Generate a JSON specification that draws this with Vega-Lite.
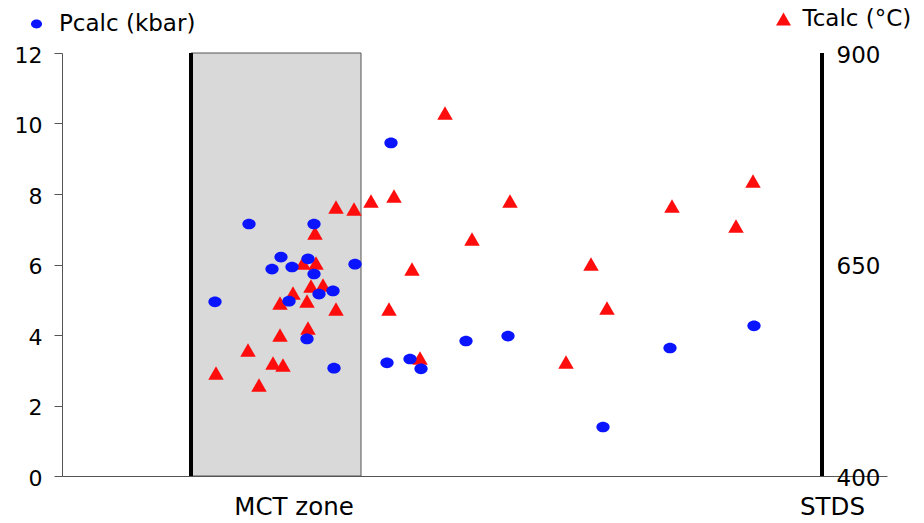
{
  "$schema": "https://vega.github.io/schema/vega-lite/v6.json",
  "width": 825,
  "height": 423,
  "autosize": {"type": "none"},
  "padding": {"left": 62, "top": 53, "right": 37, "bottom": 47},
  "background": "white",
  "config": {
    "view": {"stroke": null},
    "font": "DejaVu Sans",
    "axis": {"grid": false, "labelColor": "black", "labelFont": "DejaVu Sans"},
    "legend": {"labelFont": "DejaVu Sans", "labelColor": "black"}
  },
  "datasets": {
    "zones": [{"zone": "MCT zone", "start": 129, "end": 299}],
    "boundaries": [{"name": "MCT", "pos": 129}, {"name": "STDS", "pos": 760}],
    "pcalc": [
      {"series": "Pcalc (kbar)", "pos": 153, "P_kbar": 4.94},
      {"series": "Pcalc (kbar)", "pos": 187, "P_kbar": 7.15},
      {"series": "Pcalc (kbar)", "pos": 219, "P_kbar": 6.21},
      {"series": "Pcalc (kbar)", "pos": 210, "P_kbar": 5.87},
      {"series": "Pcalc (kbar)", "pos": 230, "P_kbar": 5.93},
      {"series": "Pcalc (kbar)", "pos": 246, "P_kbar": 6.16},
      {"series": "Pcalc (kbar)", "pos": 252, "P_kbar": 7.15},
      {"series": "Pcalc (kbar)", "pos": 252, "P_kbar": 5.73},
      {"series": "Pcalc (kbar)", "pos": 227, "P_kbar": 4.96},
      {"series": "Pcalc (kbar)", "pos": 257, "P_kbar": 5.16},
      {"series": "Pcalc (kbar)", "pos": 271, "P_kbar": 5.25},
      {"series": "Pcalc (kbar)", "pos": 293, "P_kbar": 6.01},
      {"series": "Pcalc (kbar)", "pos": 245, "P_kbar": 3.89},
      {"series": "Pcalc (kbar)", "pos": 272, "P_kbar": 3.06},
      {"series": "Pcalc (kbar)", "pos": 329, "P_kbar": 9.45},
      {"series": "Pcalc (kbar)", "pos": 325, "P_kbar": 3.21},
      {"series": "Pcalc (kbar)", "pos": 348, "P_kbar": 3.32},
      {"series": "Pcalc (kbar)", "pos": 359, "P_kbar": 3.04},
      {"series": "Pcalc (kbar)", "pos": 404, "P_kbar": 3.83},
      {"series": "Pcalc (kbar)", "pos": 446, "P_kbar": 3.97},
      {"series": "Pcalc (kbar)", "pos": 541, "P_kbar": 1.39},
      {"series": "Pcalc (kbar)", "pos": 608, "P_kbar": 3.63},
      {"series": "Pcalc (kbar)", "pos": 692, "P_kbar": 4.26}
    ],
    "tcalc": [
      {"series": "Tcalc (°C)", "pos": 154, "T_C": 521.7},
      {"series": "Tcalc (°C)", "pos": 186, "T_C": 548.9},
      {"series": "Tcalc (°C)", "pos": 197, "T_C": 507.6},
      {"series": "Tcalc (°C)", "pos": 211, "T_C": 533.6},
      {"series": "Tcalc (°C)", "pos": 221, "T_C": 531.2},
      {"series": "Tcalc (°C)", "pos": 218, "T_C": 566.7},
      {"series": "Tcalc (°C)", "pos": 246, "T_C": 574.9},
      {"series": "Tcalc (°C)", "pos": 218, "T_C": 604.5},
      {"series": "Tcalc (°C)", "pos": 231, "T_C": 616.3},
      {"series": "Tcalc (°C)", "pos": 245, "T_C": 606.9},
      {"series": "Tcalc (°C)", "pos": 249, "T_C": 624.6},
      {"series": "Tcalc (°C)", "pos": 261, "T_C": 625.8},
      {"series": "Tcalc (°C)", "pos": 241, "T_C": 651.8},
      {"series": "Tcalc (°C)", "pos": 254, "T_C": 651.8},
      {"series": "Tcalc (°C)", "pos": 253, "T_C": 687.2},
      {"series": "Tcalc (°C)", "pos": 274, "T_C": 597.4},
      {"series": "Tcalc (°C)", "pos": 274, "T_C": 718.0},
      {"series": "Tcalc (°C)", "pos": 292, "T_C": 715.6},
      {"series": "Tcalc (°C)", "pos": 309, "T_C": 725.1},
      {"series": "Tcalc (°C)", "pos": 332, "T_C": 731.0},
      {"series": "Tcalc (°C)", "pos": 383, "T_C": 829.1},
      {"series": "Tcalc (°C)", "pos": 327, "T_C": 597.4},
      {"series": "Tcalc (°C)", "pos": 350, "T_C": 644.7},
      {"series": "Tcalc (°C)", "pos": 358, "T_C": 539.5},
      {"series": "Tcalc (°C)", "pos": 410, "T_C": 680.1},
      {"series": "Tcalc (°C)", "pos": 448, "T_C": 725.1},
      {"series": "Tcalc (°C)", "pos": 504, "T_C": 534.7},
      {"series": "Tcalc (°C)", "pos": 529, "T_C": 650.6},
      {"series": "Tcalc (°C)", "pos": 545, "T_C": 598.6},
      {"series": "Tcalc (°C)", "pos": 610, "T_C": 719.1},
      {"series": "Tcalc (°C)", "pos": 674, "T_C": 695.5},
      {"series": "Tcalc (°C)", "pos": 691, "T_C": 748.7}
    ]
  },
  "layer": [
    {
      "data": {"name": "zones"},
      "mark": {"type": "rect", "fill": "#d9d9d9", "stroke": "#555555", "strokeWidth": 1},
      "encoding": {
        "x": {
          "field": "start", "type": "quantitative",
          "scale": {"domain": [0, 825], "nice": false, "zero": false},
          "axis": {
            "orient": "bottom", "values": [231.5, 770],
            "labelExpr": "datum.value < 500 ? 'MCT zone' : 'STDS'",
            "ticks": false, "tickSize": 0, "labelPadding": 19,
            "labelFontSize": 24.5, "labelFlush": false, "labelOverlap": false,
            "domainColor": "#555555", "domainWidth": 1, "title": null
          }
        },
        "x2": {"field": "end"},
        "y": {
          "datum": 0, "type": "quantitative",
          "scale": {"domain": [0, 12], "nice": false, "zero": false},
          "axis": {
            "orient": "left", "values": [0, 2, 4, 6, 8, 10, 12],
            "tickSize": 8, "labelPadding": 12, "labelFontSize": 22,
            "labelOffset": 2, "domainColor": "#555555", "tickColor": "#555555",
            "title": null
          }
        },
        "y2": {"datum": 12}
      }
    },
    {
      "data": {"name": "boundaries"},
      "mark": {"type": "rule", "color": "black", "strokeWidth": 4},
      "encoding": {
        "x": {"field": "pos", "type": "quantitative"},
        "y": {"datum": 0, "type": "quantitative", "scale": {"domain": [0, 12], "nice": false, "zero": false}, "axis": null},
        "y2": {"datum": 12}
      }
    },
    {
      "data": {"name": "tcalc"},
      "mark": {"type": "point", "filled": true, "size": 240, "opacity": 1, "color": "#ff0d0d", "strokeWidth": 0},
      "encoding": {
        "x": {"field": "pos", "type": "quantitative"},
        "y": {
          "field": "T_C", "type": "quantitative",
          "scale": {"domain": [400, 900], "nice": false, "zero": false},
          "axis": {
            "orient": "right", "offset": -65, "values": [400, 650, 900],
            "ticks": false, "tickSize": 0, "domain": false,
            "labelPadding": 14, "labelFontSize": 23, "labelOffset": 2,
            "title": null
          }
        },
        "shape": {
          "field": "series", "type": "nominal",
          "scale": {"domain": ["Tcalc (°C)"], "range": ["triangle-up"]},
          "legend": {
            "orient": "none", "legendX": 710, "legendY": -45.5,
            "title": null, "padding": 0, "symbolSize": 225,
            "symbolFillColor": "#ff0d0d", "symbolStrokeWidth": 0,
            "symbolOpacity": 1, "labelFontSize": 23, "labelOffset": 7.5
          }
        }
      }
    },
    {
      "data": {"name": "pcalc"},
      "mark": {
        "type": "point", "filled": true, "size": 177, "opacity": 1, "strokeWidth": 0,
        "shape": "M-1,0A1,0.8,0,1,0,1,0A1,0.8,0,1,0,-1,0Z"
      },
      "encoding": {
        "x": {"field": "pos", "type": "quantitative"},
        "y": {"field": "P_kbar", "type": "quantitative", "scale": {"domain": [0, 12], "nice": false, "zero": false}, "axis": null},
        "color": {
          "field": "series", "type": "nominal",
          "scale": {"domain": ["Pcalc (kbar)"], "range": ["#0a14ff"]},
          "legend": {
            "orient": "none", "legendX": -37, "legendY": -40.5,
            "title": null, "padding": 0, "symbolSize": 121,
            "symbolType": "M-1,0A1,0.8,0,1,0,1,0A1,0.8,0,1,0,-1,0Z",
            "symbolStrokeWidth": 0, "symbolOpacity": 1,
            "labelFontSize": 23, "labelOffset": 11
          }
        }
      }
    }
  ],
  "resolve": {"scale": {"y": "independent"}, "axis": {"y": "independent"}}
}
